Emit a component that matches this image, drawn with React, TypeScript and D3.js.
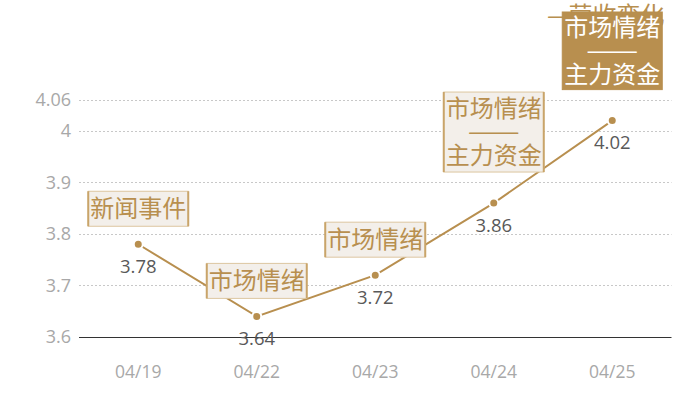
import React from "react";
import * as d3 from "d3";

const dates = ["04/19", "04/22", "04/23", "04/24", "04/25"];
const values = [3.78, 3.64, 3.72, 3.86, 4.02];
const eventLabels: string[][] = [
  ["新闻事件"],
  ["市场情绪"],
  ["市场情绪"],
  ["市场情绪", "——", "主力资金"],
  ["市场情绪", "——", "主力资金"],
];
const highlighted = [false, false, false, false, true];
const yTicks = [3.6, 3.7, 3.8, 3.9, 4, 4.06];
const hiddenLabel = "—营收变化";

const W = 700;
const H = 400;
const GOLD = "#b88f4f";
const FONT = "'Noto Sans CJK SC', 'Noto Sans', sans-serif";
const NUM_FONT = "'Open Sans', 'Noto Sans', sans-serif";

export default function App() {
  const x = d3.scaleBand<string>().domain(dates).range([79, 671.5]);
  const y = d3.scaleLinear().domain([3.6, 4.06]).range([337, 100]);
  const cx = (d: string) => (x(d) as number) + x.bandwidth() / 2;
  const line = d3
    .line<number>()
    .x((_, i) => cx(dates[i]))
    .y((v) => y(v));

  const lineH = 23.5;
  const boxW = 100;

  return (
    <svg
      width={W}
      height={H}
      style={{ position: "absolute", left: 0, top: 0, fontFamily: FONT }}
    >
      {/* grid */}
      {yTicks.map((t) => (
        <g key={t}>
          {t !== 3.6 && (
            <line
              x1={79}
              x2={671.5}
              y1={Math.round(y(t)) + 0.5}
              y2={Math.round(y(t)) + 0.5}
              stroke="#c8c8c8"
              strokeDasharray="2,2"
            />
          )}
          <text
            x={71}
            y={y(t)}
            dy="0.35em"
            textAnchor="end"
            fontSize={18}
            fontFamily={NUM_FONT}
            fill="#a8a8a8"
          >
            {t}
          </text>
        </g>
      ))}
      {/* x labels */}
      {dates.map((d) => (
        <text
          key={d}
          x={cx(d)}
          y={372}
          dy="0.35em"
          textAnchor="middle"
          fontSize={17.5}
          fontFamily={NUM_FONT}
          fill="#a8a8a8"
        >
          {d}
        </text>
      ))}
      {/* line */}
      <path d={line(values) || ""} fill="none" stroke={GOLD} strokeWidth={2} />
      {/* axis line */}
      <line
        x1={79}
        x2={671.5}
        y1={Math.round(y(3.6)) + 0.5}
        y2={Math.round(y(3.6)) + 0.5}
        stroke="#333"
        strokeWidth={1}
      />
      {/* points */}
      {values.map((v, i) => (
        <circle
          key={i}
          cx={cx(dates[i])}
          cy={y(v)}
          r={4.5}
          fill={GOLD}
          stroke="#fff"
          strokeWidth={2}
        />
      ))}
      {/* value labels */}
      {values.map((v, i) => (
        <text
          key={"v" + i}
          x={cx(dates[i])}
          y={y(v) + 22}
          dy="0.35em"
          textAnchor="middle"
          fontSize={18.5}
          fontFamily={NUM_FONT}
          fill="#595959"
        >
          {v.toFixed(2)}
        </text>
      ))}
      {/* hidden label behind top box */}
      <text x={547} y={24} fontSize={24} fill={GOLD}>
        {hiddenLabel}
      </text>
      {/* event labels */}
      {eventLabels.map((lines, i) => {
        const px = cx(dates[i]);
        const py = y(values[i]);
        const multi = lines.length > 1;
        const boxH = multi ? 80 : 35;
        const bottom = py - (multi ? 31 : 18);
        const top = Math.max(bottom - boxH, 12);
        const h = bottom - top;
        const hl = highlighted[i];
        const left = px - boxW / 2;
        return (
          <g key={"l" + i}>
            <rect
              x={left}
              y={top}
              width={boxW}
              height={h}
              fill={hl ? GOLD : "#f3efea"}
              stroke={hl ? GOLD : "#dcc6a0"}
              strokeWidth={1}
            />
            {!hl && (
              <>
                <line x1={left} x2={left} y1={top} y2={bottom} stroke="#c9a46a" strokeWidth={2} />
                <line x1={left + boxW} x2={left + boxW} y1={top} y2={bottom} stroke="#c9a46a" strokeWidth={2} />
              </>
            )}
            {lines.map((t, k) => {
              const cy = top + h / 2 + (k - (lines.length - 1) / 2) * lineH;
              const isDash = t === "——";
              return (
                <text
                  key={k}
                  x={px}
                  y={cy}
                  dy="0.35em"
                  textAnchor="middle"
                  fontSize={24}
                  fill={hl ? "#fff" : GOLD}
                  textLength={isDash ? 52 : undefined}
                  lengthAdjust={isDash ? "spacingAndGlyphs" : undefined}
                >
                  {t}
                </text>
              );
            })}
          </g>
        );
      })}
    </svg>
  );
}
